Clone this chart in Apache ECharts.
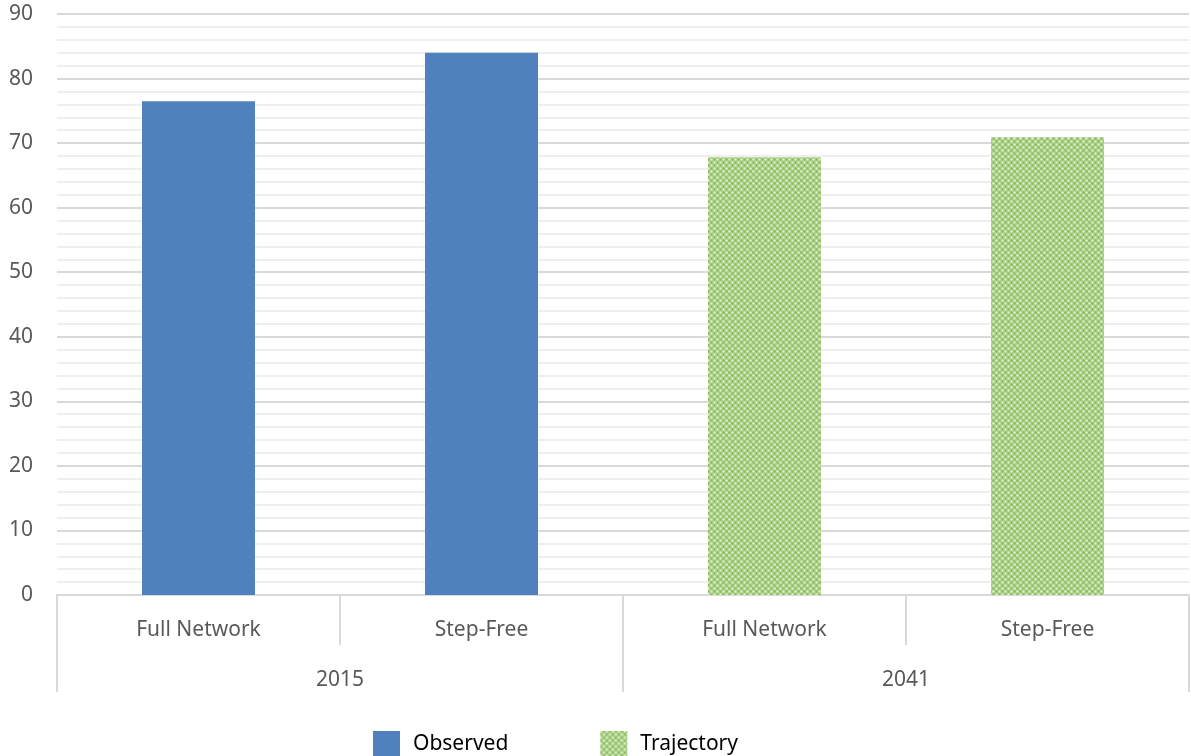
<!DOCTYPE html>
<html>
<head>
<meta charset="utf-8">
<script src="https://cdn.jsdelivr.net/npm/echarts@6/dist/echarts.min.js"></script>
<style>
html,body{margin:0;padding:0;background:#fff;}
#c{width:1191px;height:756px;}
</style>
</head>
<body>
<div id="c"></div>
<script>
const subCategories = ['Full Network', 'Step-Free', 'Full Network', 'Step-Free'];
const groupCategories = ['2015', '2041'];
const observedValues = [76.5, 84, null, null];
const trajectoryValues = [null, null, 67.8, 70.9];
const yMin = 0, yMax = 90, yInterval = 10;

function makePattern() {
  const c = document.createElement('canvas');
  c.width = 6; c.height = 6;
  const ctx = c.getContext('2d');
  ctx.fillStyle = '#aad08a';
  ctx.fillRect(0, 0, 6, 6);
  // light dots
  ctx.fillStyle = '#e3f0d6';
  ctx.fillRect(0, 0, 1, 1); ctx.fillRect(3, 3, 1, 1);
  ctx.fillStyle = '#cbe3b3';
  [[1,0],[5,0],[0,1],[0,5],[2,3],[4,3],[3,2],[3,4]].forEach(p => ctx.fillRect(p[0], p[1], 1, 1));
  // dark dots
  ctx.fillStyle = '#86b955';
  ctx.fillRect(3, 0, 1, 1); ctx.fillRect(0, 3, 1, 1);
  ctx.fillStyle = '#97c56a';
  [[2,0],[4,0],[3,1],[3,5],[1,3],[5,3],[0,2],[0,4]].forEach(p => ctx.fillRect(p[0], p[1], 1, 1));
  return c;
}
const greenPattern = { image: makePattern(), repeat: 'repeat' };

const font = 'Noto Sans';
const chart = echarts.init(document.getElementById('c'));
chart.setOption({
  animation: false,
  backgroundColor: '#fff',
  grid: { left: 57, right: 2, top: 14, bottom: 161, containLabel: false },
  legend: {
    left: 368, top: 726,
    itemWidth: 27, itemHeight: 27, itemGap: 92,
    icon: 'rect',
    textStyle: { fontFamily: font, fontSize: 21, color: '#000', padding: [0, 0, 0, 8] },
    data: ['Observed', 'Trajectory']
  },
  xAxis: [
    {
      type: 'category', data: subCategories, position: 'bottom',
      axisLine: { show: true, lineStyle: { color: '#d9d9d9', width: 2 } },
      axisTick: { show: true, length: 50, lineStyle: { color: '#d9d9d9', width: 2 } },
      axisLabel: { fontFamily: font, fontSize: 21, color: '#595959', margin: 25 }
    },
    {
      type: 'category', data: groupCategories, position: 'bottom',
      axisLine: { show: false },
      axisTick: { show: true, length: 97, lineStyle: { color: '#d9d9d9', width: 2 } },
      axisLabel: { fontFamily: font, fontSize: 21, color: '#595959', margin: 75 }
    }
  ],
  yAxis: {
    type: 'value', min: yMin, max: yMax, interval: yInterval,
    axisLine: { show: false }, axisTick: { show: false },
    axisLabel: { fontFamily: font, fontSize: 21, color: '#595959', margin: 24 },
    splitLine: { lineStyle: { color: '#d9d9d9', width: 2 } },
    minorTick: { show: false, splitNumber: 5 },
    minorSplitLine: { show: true, lineStyle: { color: '#eeeeee', width: 2 } }
  },
  series: [
    { name: 'Observed', type: 'bar', data: observedValues, barWidth: 113, barGap: '-100%',
      itemStyle: { color: '#4f81bd' } },
    { name: 'Trajectory', type: 'bar', data: trajectoryValues, barWidth: 113, barGap: '-100%',
      itemStyle: { color: greenPattern } }
  ]
});
</script>
</body>
</html>
